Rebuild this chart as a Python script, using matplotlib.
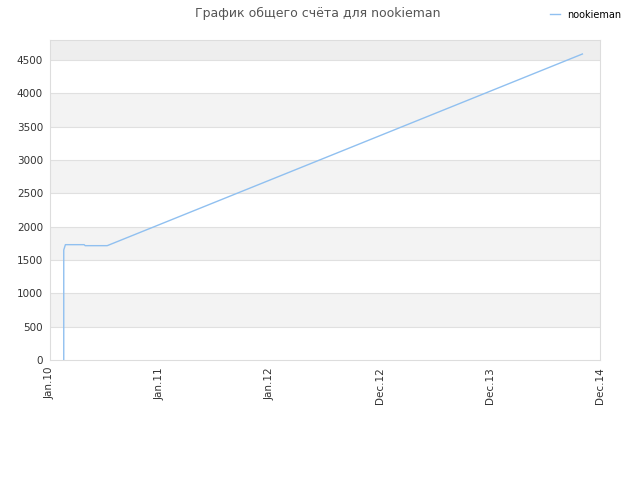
import matplotlib
matplotlib.use("Agg")
import matplotlib.pyplot as plt

# x in tick-slot units (ticks evenly spaced), y = total score
x_vals = [0.125, 0.125, 0.125, 0.14, 0.31, 0.32, 0.52, 4.84]
y_vals = [0, 500, 1650, 1730, 1730, 1715, 1715, 4590]
tick_labels = ["Jan.10", "Jan.11", "Jan.12", "Dec.12", "Dec.13", "Dec.14"]
y_ticks = [0, 500, 1000, 1500, 2000, 2500, 3000, 3500, 4000, 4500]

fig = plt.figure(figsize=(6.4, 4.8), dpi=100)
ax = fig.add_axes([50/640, 120/480, 550/640, 320/480])

# alternating bands
for i, lo in enumerate(y_ticks):
    if i % 2 == 1:
        ax.axhspan(lo, lo + 500, color="#f3f3f3", zorder=0, lw=0)
ax.axhspan(4500, 4800, color="#eeeeee", zorder=0, lw=0)
for yt in y_ticks[1:]:
    ax.axhline(yt, color="#e0e0e0", lw=0.8, zorder=1)

ax.plot(x_vals, y_vals, color="#90c0f0", lw=1.0, label="nookieman", zorder=3)

ax.set_xlim(0, 5)
ax.set_ylim(0, 4800)
ax.set_xticks(range(len(tick_labels)))
ax.set_xticklabels(tick_labels, rotation=90, fontsize=7.5, color="#333333")
ax.set_yticks(y_ticks)
ax.set_yticklabels([str(v) for v in y_ticks], fontsize=7.5, color="#333333")
ax.tick_params(length=0, pad=5)
for s in ax.spines.values():
    s.set_color("#dddddd")

fig.text(0.497, 0.972, "График общего счёта для nookieman", ha="center", va="center",
         fontsize=9, color="#555555")
fig.legend(loc="upper right", bbox_to_anchor=(0.985, 0.998), frameon=False,
           fontsize=7, handlelength=1, handletextpad=0.8)

fig.savefig("out.png", dpi=100)
